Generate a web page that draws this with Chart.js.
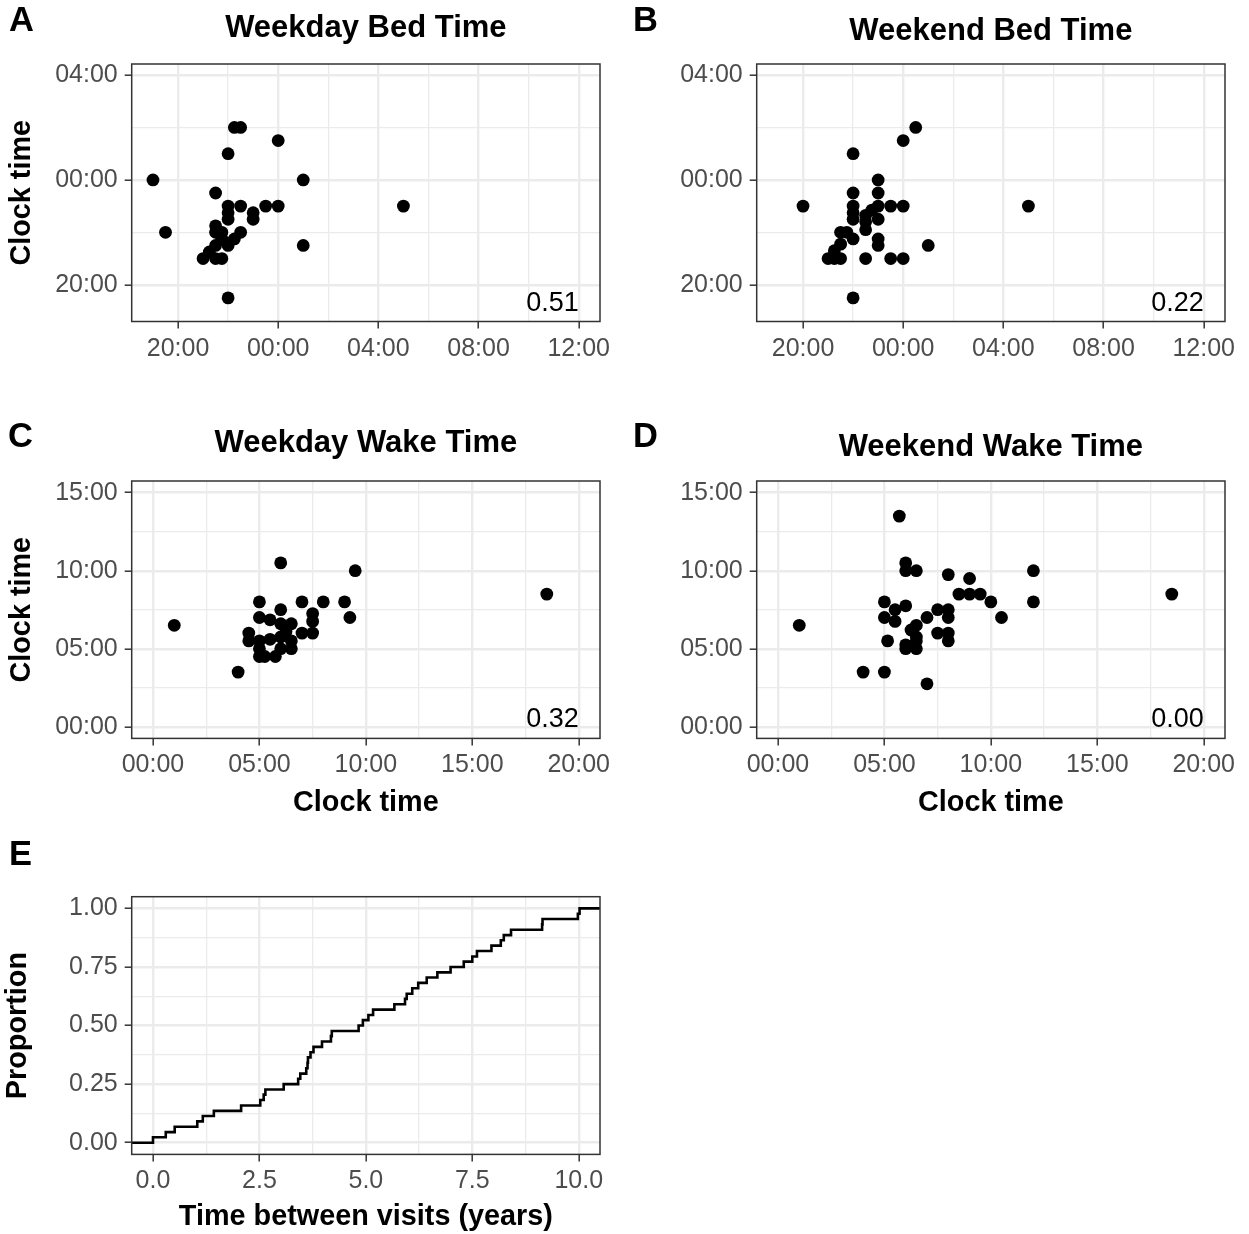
<!DOCTYPE html>
<html><head><meta charset="utf-8">
<script src="https://cdn.jsdelivr.net/npm/chart.js@4.4.0/dist/chart.umd.min.js"></script>
<style>
html,body{margin:0;padding:0;background:#fff;}
body{width:1249px;height:1234px;position:relative;overflow:hidden;}
canvas{position:absolute;}
</style></head><body>
<canvas id="cA" width="624" height="380" style="left:0px;top:0px"></canvas>
<canvas id="cB" width="625" height="380" style="left:624px;top:0px"></canvas>
<canvas id="cC" width="624" height="430" style="left:0px;top:400px"></canvas>
<canvas id="cD" width="625" height="430" style="left:624px;top:400px"></canvas>
<canvas id="cE" width="624" height="404" style="left:0px;top:830px"></canvas>
<script>
// ---- DATA (clock times in hours; bed times relative to midnight, negative = evening) ----
const weekdayBedX = [-5,-4.5,-2,-1.75,-1.5,0,1,1,5,-2.5,-2,-1.5,-0.5,0,-2,-2,-1,-1,-2.5,-2.5,-2.25,-1.5,-1.75,-2.25,-2,-2.5,-2.75,-3,-2.5,-2.25,-2];
const weekdayBedY = [0,-2,1,2,2,1.5,0,-2.5,-1,-0.5,-1,-1,-1,-1,-1.25,-1.5,-1.25,-1.5,-1.75,-2,-2,-2,-2.25,-2.25,-2.5,-2.5,-2.75,-3,-3,-3,-4.5];

const weekendBedX = [-4,-2,0.5,0,5,1,-2,-1,-2,-1,-2,-2,-2,-1,-0.5,0,-1.25,-1.5,-1.5,-1.5,-1,-2.5,-2.25,-2,-1,-1,-2.5,-2.75,-3,-2.75,-2.5,-1.5,-0.5,0];
const weekendBedY = [-1,1,2,1.5,-1,-2.5,-4.5,0,-0.5,-0.5,-1,-1.25,-1.5,-1,-1,-1,-1.15,-1.35,-1.6,-1.9,-1.5,-2,-2,-2.25,-2.25,-2.5,-2.45,-2.7,-3,-3,-3,-3,-3,-3];

const weekdayWakeX = [1,4,6,9.5,18.5,5,7,8,9,9.25,6,5,5.5,7.5,7.5,7.5,6.5,6,4.5,4.5,7,5,5.5,6,6.5,6.25,5,5,5.25,5.75,6,6.5];
const weekdayWakeY = [6.5,3.5,10.5,10,8.5,8,8,8,8,7,7.5,7,6.85,7.25,6.75,6,6.6,6.6,6,5.5,6,5.5,5.6,5.75,5.5,6.1,5,4.5,4.5,4.5,5,5];

const weekendWakeX = [1,4,5,7,5.7,6,6,6.5,8,9,12,12,8.5,9,9.5,10,10.5,18.5,5,5.5,6,5,5.5,7,7.5,8,8,7.5,8,8,6.5,6.25,6.5,5.15,6,6,6.5,6.5];
const weekendWakeY = [6.5,3.5,3.5,2.75,13.5,10.5,10,10,9.75,9.5,10,8,8.5,8.5,8.5,8,7,8.5,8,7.5,7.75,7,6.75,7,7.5,7.5,7,6,6,5.5,6.5,6.2,5.75,5.5,5.25,5,5,5.5];

// ECDF of time between visits: step positions (years) and proportion reached
const visitYears = [-0.5,0.00,0.30,0.51,1.04,1.17,1.43,2.07,2.52,2.60,2.64,3.07,3.41,3.46,3.60,3.63,3.64,3.70,3.77,3.97,4.18,4.20,4.83,4.93,5.06,5.17,5.67,5.92,5.96,6.09,6.23,6.43,6.68,6.99,7.30,7.50,7.61,7.95,8.17,8.24,8.41,9.14,9.15,9.98,10.02,10.5];
const visitProp  = [0,0.023,0.045,0.068,0.091,0.114,0.136,0.159,0.182,0.205,0.227,0.250,0.273,0.295,0.318,0.341,0.364,0.386,0.409,0.432,0.455,0.477,0.500,0.523,0.545,0.568,0.591,0.614,0.636,0.659,0.682,0.705,0.727,0.750,0.773,0.795,0.818,0.841,0.864,0.886,0.909,0.932,0.955,0.977,1.000,1.000];

const panelTitles = ["Weekday Bed Time","Weekend Bed Time","Weekday Wake Time","Weekend Wake Time"];
const panelLetters = ["A","B","C","D","E"];
const corrLabels = ["0.51","0.22","0.32","0.00"];
const bedTicks = [-4,0,4,8,12];     // major x ticks (bed)
const wakeTicks = [0,5,10,15,20];   // major x ticks (wake)

// ---- helpers ----
const FAM = "'Liberation Sans', Arial, Helvetica, sans-serif";
Chart.defaults.font.family = FAM;
const pts = (xs, ys) => xs.map((x, i) => ({x: x, y: ys[i]}));
const clock = v => { const h = ((Math.round(v) % 24) + 24) % 24; return (h < 10 ? '0' : '') + h + ':00'; };
const isMult = (v, m) => Math.abs(v / m - Math.round(v / m)) < 1e-6;

function axis(o) {
  return {
    type: 'linear', min: o.min, max: o.max, position: o.position,
    afterFit: s => { if (o.position === 'left') s.width = o.size; else s.height = o.size; },
    ticks: {
      stepSize: o.step, includeBounds: false, autoSkip: false, maxRotation: 0, minRotation: 0,
      color: '#4D4D4D', font: {size: 25, family: FAM}, padding: o.position === 'left' ? 7 : (o.tpad || 5),
      callback: v => isMult(v, o.major) ? o.fmt(v) : ''
    },
    grid: {
      color: '#EBEBEB',
      lineWidth: c => (c.tick && isMult(c.tick.value, o.major)) ? 2.4 : 1.3,
      tickLength: 7, tickWidth: 1.5,
      tickColor: c => (c.tick && isMult(c.tick.value, o.major)) ? '#333333' : 'rgba(0,0,0,0)'
    },
    border: {display: false},
    title: o.title ? {display: true, text: o.title, color: '#000', font: {size: 28.8, weight: 'bold', family: FAM},
      padding: o.titlePad} : {display: false}
  };
}

const framePlugin = {
  id: 'frame',
  afterDraw(chart, args, opts) {
    const {ctx, chartArea: a} = chart;
    ctx.save();
    ctx.strokeStyle = '#333333'; ctx.lineWidth = 1.5;
    ctx.strokeRect(a.left, a.top, a.right - a.left, a.bottom - a.top);
    ctx.fillStyle = '#000';
    ctx.font = 'bold 34.5px ' + FAM; ctx.textAlign = 'left'; ctx.textBaseline = 'middle';
    ctx.fillText(opts.letter, opts.lx, opts.ly);
    if (opts.note) {
      ctx.font = '27px ' + FAM; ctx.textAlign = 'right'; ctx.textBaseline = 'alphabetic';
      ctx.fillText(opts.note, chart.scales.x.getPixelForValue(opts.nx), chart.scales.y.getPixelForValue(opts.ny));
    }
    ctx.restore();
  }
};

function scatterPanel(id, data, p) {
  new Chart(document.getElementById(id), {
    type: 'scatter',
    data: {datasets: [{data: data, backgroundColor: '#000', borderWidth: 0, pointRadius: 6.4, pointHoverRadius: 6.4}]},
    options: {
      responsive: false, animation: false, devicePixelRatio: 1,
      layout: {padding: {left: 0, right: p.padRight, top: 0, bottom: 0}},
      plugins: {
        legend: {display: false}, tooltip: {enabled: false},
        title: {display: true, text: p.title, color: '#000', fullSize: false,
          font: {size: 31, weight: 'bold', family: FAM, lineHeight: 1.2}, padding: p.titlePad},
        frame: {letter: p.letter, lx: p.lx, ly: p.ly, note: p.note, nx: p.nx, ny: p.ny}
      },
      scales: {x: axis(p.x), y: axis(p.y)}
    },
    plugins: [framePlugin]
  });
}

// A
scatterPanel('cA', pts(weekdayBedX, weekdayBedY), {
  title: panelTitles[0], titlePad: {top: 10, bottom: 16.8}, padRight: 24,
  letter: panelLetters[0], lx: 9, ly: 21, note: corrLabels[0], nx: bedTicks[4], ny: -5,
  x: {position: 'bottom', min: -5.85, max: 12.85, step: 2, major: 4, fmt: clock, size: 58.5, tpad: 6},
  y: {position: 'left', min: -5.4, max: 4.42, step: 2, major: 4, fmt: clock, size: 131.7, title: 'Clock time', titlePad: {top: 5, bottom: 0}}
});
// B
scatterPanel('cB', pts(weekendBedX, weekendBedY), {
  title: panelTitles[1], titlePad: {top: 12.8, bottom: 14}, padRight: 24,
  letter: panelLetters[1], lx: 9, ly: 21, note: corrLabels[1], nx: bedTicks[4], ny: -5,
  x: {position: 'bottom', min: -5.85, max: 12.85, step: 2, major: 4, fmt: clock, size: 58.5, tpad: 6},
  y: {position: 'left', min: -5.4, max: 4.42, step: 2, major: 4, fmt: clock, size: 132.7}
});
// C
scatterPanel('cC', pts(weekdayWakeX, weekdayWakeY), {
  title: panelTitles[2], titlePad: {top: 24.4, bottom: 19.4}, padRight: 24,
  letter: panelLetters[2], lx: 8, ly: 37, note: corrLabels[2], nx: wakeTicks[4], ny: 0,
  x: {position: 'bottom', min: -1, max: 21, step: 2.5, major: 5, fmt: clock, size: 91.6, title: 'Clock time', titlePad: {top: 0, bottom: 9.5}},
  y: {position: 'left', min: -0.75, max: 15.75, step: 2.5, major: 5, fmt: clock, size: 131.7, title: 'Clock time', titlePad: {top: 5, bottom: 0}}
});
// D
scatterPanel('cD', pts(weekendWakeX, weekendWakeY), {
  title: panelTitles[3], titlePad: {top: 28.4, bottom: 15.4}, padRight: 24,
  letter: panelLetters[3], lx: 9, ly: 37, note: corrLabels[3], nx: wakeTicks[4], ny: 0,
  x: {position: 'bottom', min: -1, max: 21, step: 2.5, major: 5, fmt: clock, size: 91.6, title: 'Clock time', titlePad: {top: 0, bottom: 9.5}},
  y: {position: 'left', min: -0.75, max: 15.75, step: 2.5, major: 5, fmt: clock, size: 132.7}
});
// E
new Chart(document.getElementById('cE'), {
  type: 'line',
  data: {datasets: [{data: pts(visitYears, visitProp), borderColor: '#000', borderWidth: 2.6, pointRadius: 0, stepped: true, fill: false, tension: 0}]},
  options: {
    responsive: false, animation: false, devicePixelRatio: 1,
    layout: {padding: {left: 0, right: 24, top: 66.7, bottom: 0}},
    plugins: {legend: {display: false}, tooltip: {enabled: false},
      frame: {letter: panelLetters[4], lx: 9, ly: 25}},
    scales: {
      x: axis({position: 'bottom', min: -0.5, max: 10.5, step: 1.25, major: 2.5, fmt: v => v.toFixed(1), size: 79.6,
        title: 'Time between visits (years)', titlePad: {top: 0, bottom: 0}}),
      y: axis({position: 'left', min: -0.05, max: 1.05, step: 0.125, major: 0.25, fmt: v => v.toFixed(2), size: 131.7,
        title: 'Proportion', titlePad: {top: 1, bottom: 0}})
    }
  },
  plugins: [framePlugin]
});
</script>
</body></html>
